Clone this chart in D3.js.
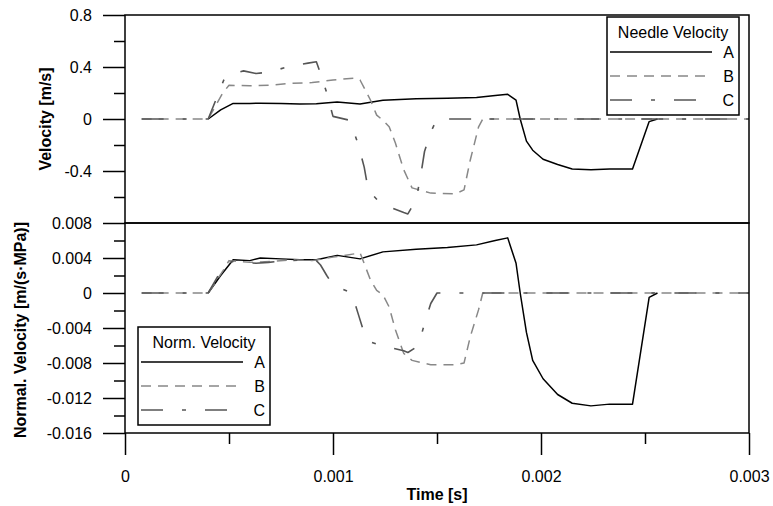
<!DOCTYPE html>
<html lang="en">
<head>
    <meta charset="UTF-8">
    <title>Needle Velocity</title>
    <script src="https://d3js.org/d3.v7.min.js"></script>
    <style>
        body { margin: 0; background: #fff; }
        text { font-family: "Liberation Sans", Arial, sans-serif; fill: #000; }
    </style>
</head>
<body>
    <div id="chart"></div>
    <script>
        // Series data (time in s)
        const timeA = [0.0004, 0.00046, 0.00052, 0.0006, 0.00065, 0.00075, 0.00084, 0.00092, 0.00102, 0.00113, 0.00124, 0.0014, 0.00155, 0.00169, 0.00178, 0.00184, 0.00188, 0.0019, 0.00193, 0.00196, 0.00201, 0.00208, 0.00215, 0.00224, 0.00233, 0.00244, 0.00252, 0.00256];
        const velA = [0, 0.07, 0.12, 0.12, 0.122, 0.12, 0.115, 0.117, 0.13, 0.115, 0.145, 0.155, 0.16, 0.165, 0.18, 0.19, 0.145, 0, -0.17, -0.24, -0.31, -0.35, -0.385, -0.39, -0.385, -0.385, -0.02, 0];
        const normA = [0, 0.002, 0.0038, 0.0037, 0.004, 0.0039, 0.0038, 0.0038, 0.0043, 0.0039, 0.0047, 0.005, 0.0052, 0.0055, 0.006, 0.0063, 0.0034, 0, -0.0045, -0.0077, -0.0098, -0.0116, -0.0126, -0.0129, -0.0127, -0.0127, -0.0005, 0];

        const timeB = [0.00008, 0.0004, 0.00047, 0.0005, 0.0006, 0.0007, 0.0008, 0.0009, 0.001, 0.00111, 0.00113, 0.00118, 0.00121, 0.00124, 0.00127, 0.0013, 0.00134, 0.00138, 0.00147, 0.00159, 0.00163, 0.00166, 0.0017, 0.00172, 0.003];
        const velB = [0, 0, 0.2, 0.26, 0.255, 0.26, 0.275, 0.28, 0.3, 0.315, 0.3, 0.146, 0.03, -0.01, -0.06, -0.185, -0.39, -0.53, -0.57, -0.575, -0.545, -0.315, -0.06, 0, 0];
        const normB = [0, 0, 0.0025, 0.0037, 0.0035, 0.0036, 0.0038, 0.0037, 0.0041, 0.0045, 0.0046, 0.0015, 0.0003, -0.0002, -0.0016, -0.0042, -0.0069, -0.0077, -0.0082, -0.0082, -0.008, -0.005, -0.0019, 0, 0];

        const timeC = [0.00008, 0.0004, 0.00048, 0.00052, 0.00057, 0.00063, 0.00069, 0.00078, 0.00088, 0.00092, 0.00094, 0.00097, 0.001, 0.00108, 0.00109, 0.00112, 0.00115, 0.00117, 0.00123, 0.00134, 0.00136, 0.0014, 0.00142, 0.00144, 0.00147, 0.0015, 0.003];
        const velC = [0, 0, 0.32, 0.35, 0.37, 0.35, 0.36, 0.4, 0.43, 0.44, 0.35, 0.2, 0.02, -0.01, -0.05, -0.19, -0.37, -0.55, -0.65, -0.72, -0.73, -0.62, -0.45, -0.25, -0.1, 0, 0];
        const normC = [0, 0, 0.0033, 0.0036, 0.0035, 0.0034, 0.0035, 0.0037, 0.0038, 0.0037, 0.0032, 0.002, 0.0009, 0.0001, 0, -0.0023, -0.0046, -0.0055, -0.006, -0.0066, -0.0068, -0.0062, -0.0052, -0.0035, -0.0012, 0, 0];

        const seriesNames = ["A", "B", "C"];
        const xTicks = [0, 0.001, 0.002, 0.003];
        const xMinor = [0.0005, 0.0015, 0.0025];
        const velTicks = [-0.4, 0, 0.4, 0.8];
        const velMinor = [-0.6, -0.2, 0.2, 0.6];
        const normTicks = [-0.016, -0.012, -0.008, -0.004, 0, 0.004, 0.008];
        const normMinor = [-0.014, -0.01, -0.006, -0.002, 0.002, 0.006];

        const width = 773, height = 506;
        const plotLeft = 125, plotRight = 749, plotTop = 15, plotMid = 223, plotBottom = 433;

        const styles = {
            A: { color: "#000", dash: null, w: 1.5 },
            B: { color: "#888", dash: "10,7", w: 1.5 },
            C: { color: "#555", dash: "22,19,4,19", w: 1.6 }
        };

        const svg = d3.select("#chart").append("svg")
            .attr("width", width)
            .attr("height", height);

        const x = d3.scaleLinear().domain([0, 0.003]).range([plotLeft, plotRight]);
        const yTop = d3.scaleLinear().domain([-0.8, 0.8]).range([plotMid, plotTop]);
        const yBot = d3.scaleLinear().domain([-0.016, 0.008]).range([plotBottom, plotMid]);

        const fmt = d => d === 0 ? "0" : String(d);

        function styleAxis(g) {
            g.select(".domain").remove();
            g.selectAll("line").attr("stroke", "#000").attr("stroke-width", 1.5);
            g.selectAll("text").attr("font-size", 16).attr("font-family", "Liberation Sans, Arial, sans-serif").attr("fill", "#000");
        }

        // y axes, top panel
        svg.append("g").attr("transform", `translate(${plotLeft},0)`)
            .call(d3.axisLeft(yTop).tickValues(velTicks).tickSize(22).tickPadding(11).tickFormat(fmt))
            .call(styleAxis);
        svg.append("g").attr("transform", `translate(${plotLeft},0)`)
            .call(d3.axisLeft(yTop).tickValues(velMinor).tickSize(11).tickFormat(""))
            .call(styleAxis);

        // y axes, bottom panel
        svg.append("g").attr("transform", `translate(${plotLeft},0)`)
            .call(d3.axisLeft(yBot).tickValues(normTicks).tickSize(22).tickPadding(11).tickFormat(fmt))
            .call(styleAxis);
        svg.append("g").attr("transform", `translate(${plotLeft},0)`)
            .call(d3.axisLeft(yBot).tickValues(normMinor).tickSize(11).tickFormat(""))
            .call(styleAxis);

        // x axis
        svg.append("g").attr("transform", `translate(0,${plotBottom})`)
            .call(d3.axisBottom(x).tickValues(xTicks).tickSize(22).tickPadding(16).tickFormat(fmt))
            .call(styleAxis);
        svg.append("g").attr("transform", `translate(0,${plotBottom})`)
            .call(d3.axisBottom(x).tickValues(xMinor).tickSize(11).tickFormat(""))
            .call(styleAxis);

        // lines
        const lineTop = d3.line().x(d => x(d[0])).y(d => yTop(d[1]));
        const lineBot = d3.line().x(d => x(d[0])).y(d => yBot(d[1]));
        const topData = { A: d3.zip(timeA, velA), B: d3.zip(timeB, velB), C: d3.zip(timeC, velC) };
        const botData = { A: d3.zip(timeA, normA), B: d3.zip(timeB, normB), C: d3.zip(timeC, normC) };

        seriesNames.forEach(name => {
            const s = styles[name];
            svg.append("path").datum(topData[name])
                .attr("d", lineTop)
                .attr("fill", "none").attr("stroke", s.color).attr("stroke-width", s.w)
                .attr("stroke-dasharray", s.dash).attr("stroke-linejoin", "round");
            svg.append("path").datum(botData[name])
                .attr("d", lineBot)
                .attr("fill", "none").attr("stroke", s.color).attr("stroke-width", s.w)
                .attr("stroke-dasharray", s.dash).attr("stroke-linejoin", "round");
        });

        // frames
        svg.append("rect").attr("x", plotLeft).attr("y", plotTop).attr("width", plotRight - plotLeft).attr("height", plotMid - plotTop)
            .attr("fill", "none").attr("stroke", "#000").attr("stroke-width", 1.5);
        svg.append("rect").attr("x", plotLeft).attr("y", plotMid).attr("width", plotRight - plotLeft).attr("height", plotBottom - plotMid)
            .attr("fill", "none").attr("stroke", "#000").attr("stroke-width", 1.5);

        // legends
        function legend(lx, ly, title) {
            const g = svg.append("g").attr("transform", `translate(${lx},${ly})`);
            g.append("rect").attr("width", 132).attr("height", 98)
                .attr("fill", "#fff").attr("stroke", "#000").attr("stroke-width", 1.5);
            g.append("text").attr("x", 66).attr("y", 21).attr("text-anchor", "middle")
                .attr("font-size", 16).text(title);
            seriesNames.forEach((name, i) => {
                const s = styles[name];
                const yy = 35 + i * 24;
                g.append("line").attr("x1", 3).attr("x2", 105).attr("y1", yy).attr("y2", yy)
                    .attr("stroke", s.color).attr("stroke-width", s.w).attr("stroke-dasharray", s.dash);
                g.append("text").attr("x", 127).attr("y", yy + 6).attr("text-anchor", "end")
                    .attr("font-size", 16).text(name);
            });
        }
        legend(607, 17, "Needle Velocity");
        legend(138, 327, "Norm. Velocity");

        // axis titles
        svg.append("text").attr("transform", `translate(51,${(plotTop + plotMid) / 2}) rotate(-90)`)
            .attr("text-anchor", "middle").attr("font-size", 16).attr("font-weight", "bold")
            .text("Velocity [m/s]");
        svg.append("text").attr("transform", "translate(26,330) rotate(-90)")
            .attr("text-anchor", "middle").attr("font-size", 16).attr("font-weight", "bold")
            .text("Normal. Velocity [m/(s·MPa)]");
        svg.append("text").attr("x", (plotLeft + plotRight) / 2).attr("y", 500)
            .attr("text-anchor", "middle").attr("font-size", 16).attr("font-weight", "bold")
            .text("Time [s]");
    </script>
</body>
</html>
